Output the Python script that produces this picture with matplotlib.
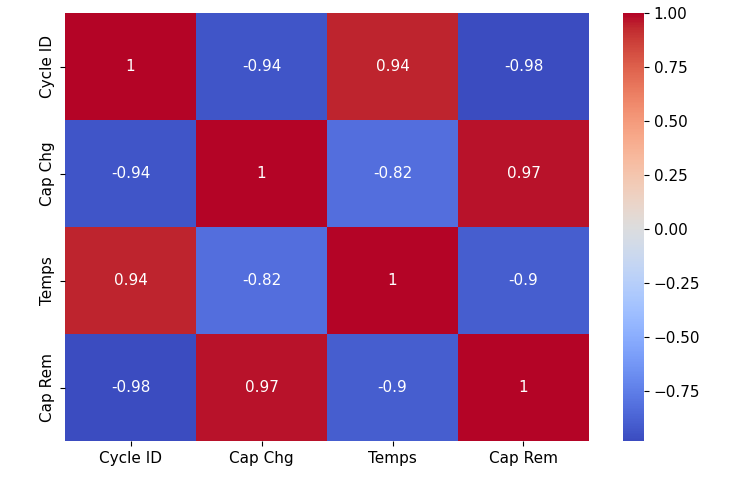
import matplotlib
matplotlib.use('Agg')
import matplotlib.pyplot as plt
import seaborn as sns
import pandas as pd

# Correlation matrix
labels = ['Cycle ID', 'Cap Chg', 'Temps', 'Cap Rem']
row_cycle = [1.0, -0.94, 0.94, -0.98]
row_chg = [-0.94, 1.0, -0.82, 0.97]
row_temps = [0.94, -0.82, 1.0, -0.9]
row_rem = [-0.98, 0.97, -0.9, 1.0]

corr = pd.DataFrame([row_cycle, row_chg, row_temps, row_rem], index=labels, columns=labels)

fig = plt.figure(figsize=(7.39, 4.78), dpi=100)
ax = fig.add_axes([0.088, 0.0774, 0.709, 0.895])
cax = fig.add_axes([0.843, 0.0774, 0.0284, 0.895])

sns.heatmap(corr, annot=True, cmap='coolwarm', ax=ax, cbar_ax=cax,
            annot_kws={'fontsize': 11})
ax.tick_params(labelsize=11)
cax.tick_params(labelsize=11)
ax.set_yticklabels(labels, rotation=90, va='center')

fig.savefig('out.png', dpi=100)
